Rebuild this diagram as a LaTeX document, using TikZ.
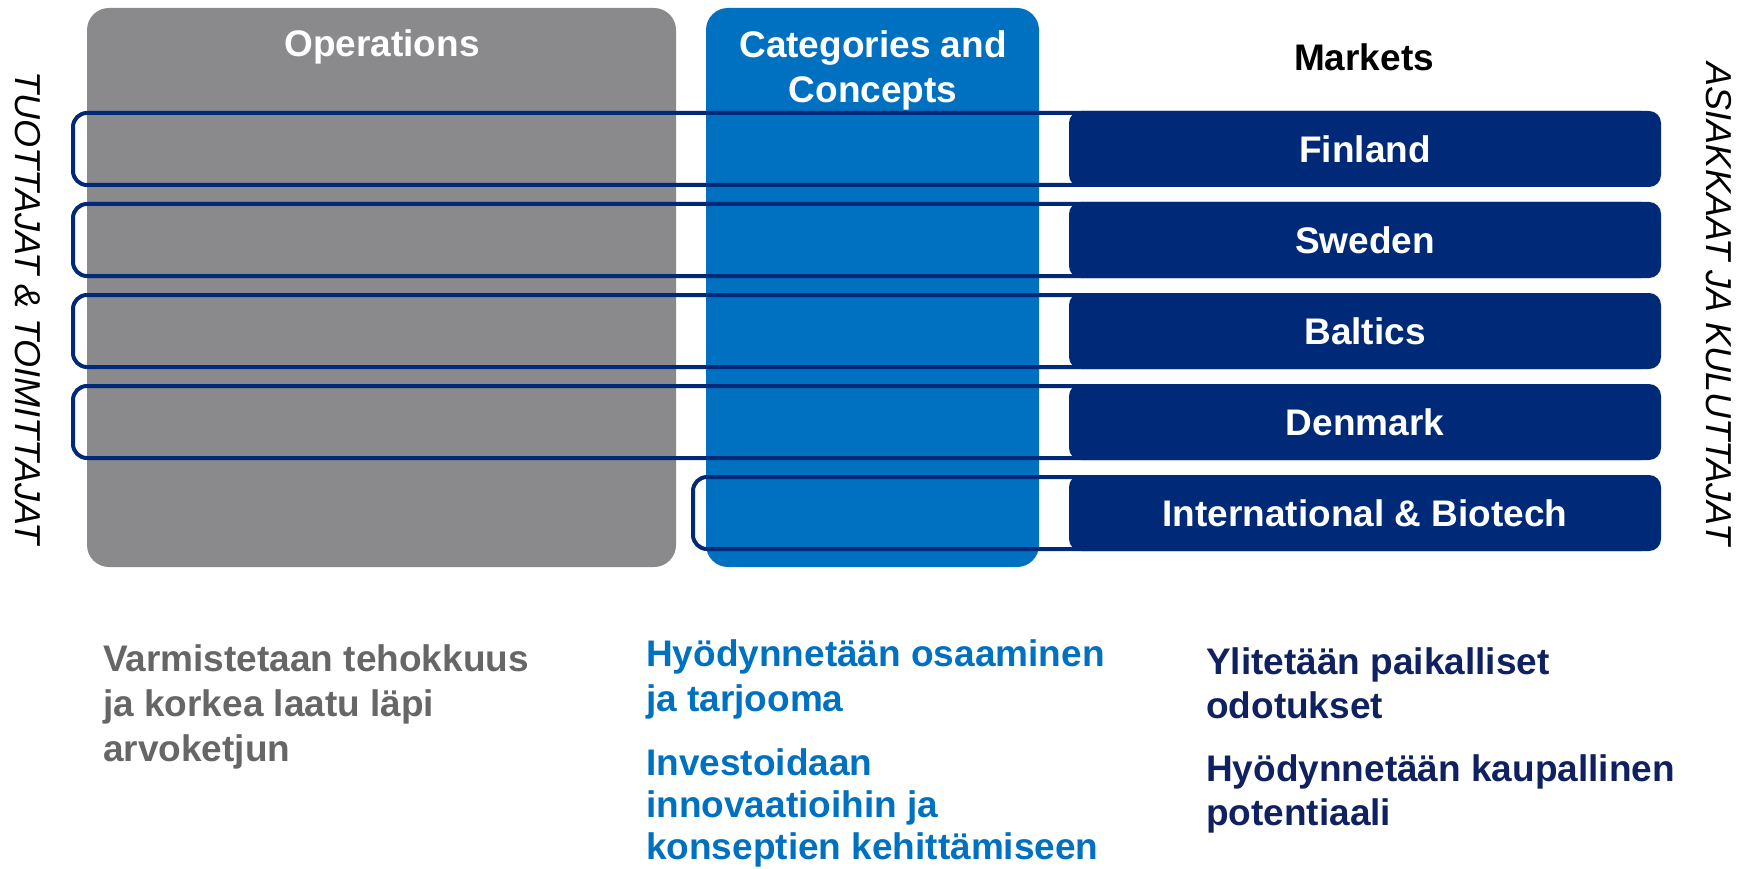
\documentclass[tikz,border=0pt]{standalone}
\usepackage{fontspec}
\setmainfont{Liberation Sans}
\usetikzlibrary{positioning}
\definecolor{opsgray}{HTML}{8A8A8C}
\definecolor{txtgray}{HTML}{666666}
\definecolor{catblue}{HTML}{0070C0}
\definecolor{mktnavy}{HTML}{002A78}
\definecolor{mktink}{HTML}{0F2160}

\begin{document}
\begin{tikzpicture}[x=1pt, y=-1pt,
    column/.style={rectangle, rounded corners=22pt, minimum height=559pt, inner sep=0pt},
    market/.style={rectangle, rounded corners=12pt, fill=mktnavy, text=white, minimum width=592pt, minimum height=76pt, inner sep=0pt, font=\fontsize{37}{42}\selectfont\bfseries},
    frame/.style={rectangle, draw=mktnavy, line width=4pt, rounded corners=14pt, minimum height=72pt, inner sep=0pt},
    head/.style={align=center, font=\fontsize{37}{45}\selectfont\bfseries},
    side/.style={rotate=-90, font=\fontsize{36}{42}\selectfont\itshape},
    goal/.style={anchor=north west, inner sep=0pt, align=left, font=\fontsize{37}{45}\selectfont\bfseries}
]
    \useasboundingbox (0,0) rectangle (1750,869);

    % columns
    \node[column, fill=opsgray, minimum width=589pt] (ops) at (381.5,287.5) {};
    \node[column, fill=catblue, minimum width=333pt] (cat) at (872.5,287.5) {};

    \node[head, text=white] (opstitle) at (382,47) {Operations};
    \node[head, text=white] (cattitle) at (873,70) {Categories and\\Concepts};
    \node[head, text=black] (mkttitle) at (1364,57) {Markets};

    % frames behind the markets
    \node[frame, minimum width=1582pt] (f1) at (864,149) {};
    \node[frame, minimum width=1582pt] (f2) at (864,240) {};
    \node[frame, minimum width=1582pt] (f3) at (864,331) {};
    \node[frame, minimum width=1582pt] (f4) at (864,422) {};
    \node[frame, minimum width=962pt] (f5) at (1174,513) {};

    % markets
    \node[market] (fin) at (1365,149) {Finland};
    \node[market] (swe) at (1365,240) {Sweden};
    \node[market] (bal) at (1365,331) {Baltics};
    \node[market] (den) at (1365,422) {Denmark};
    \node[market] (int) at (1365,513) {International \& Biotech};

    % sides
    \node[side] (suppliers) at (28,308) {TUOTTAJAT \& TOIMITTAJAT};
    \node[side] (customers) at (1719,304) {ASIAKKAAT JA KULUTTAJAT};

    % goals
    \node[goal, text=txtgray] (opsgoal) at (103,644) {Varmistetaan tehokkuus\\ja korkea laatu läpi\\arvoketjun};
    \node[goal, text=catblue] (catgoal1) at (646,639) {Hyödynnetään osaaminen\\ja tarjooma};
    \node[goal, text=catblue, font=\fontsize{37}{42}\selectfont\bfseries] (catgoal2) at (646,748) {Investoidaan\\innovaatioihin ja\\konseptien kehittämiseen};
    \node[goal, text=mktink, font=\fontsize{37}{44}\selectfont\bfseries] (mktgoal1) at (1206,647) {Ylitetään paikalliset\\odotukset};
    \node[goal, text=mktink, font=\fontsize{37}{44}\selectfont\bfseries] (mktgoal2) at (1206,754) {Hyödynnetään kaupallinen\\potentiaali};
\end{tikzpicture}
\end{document}
